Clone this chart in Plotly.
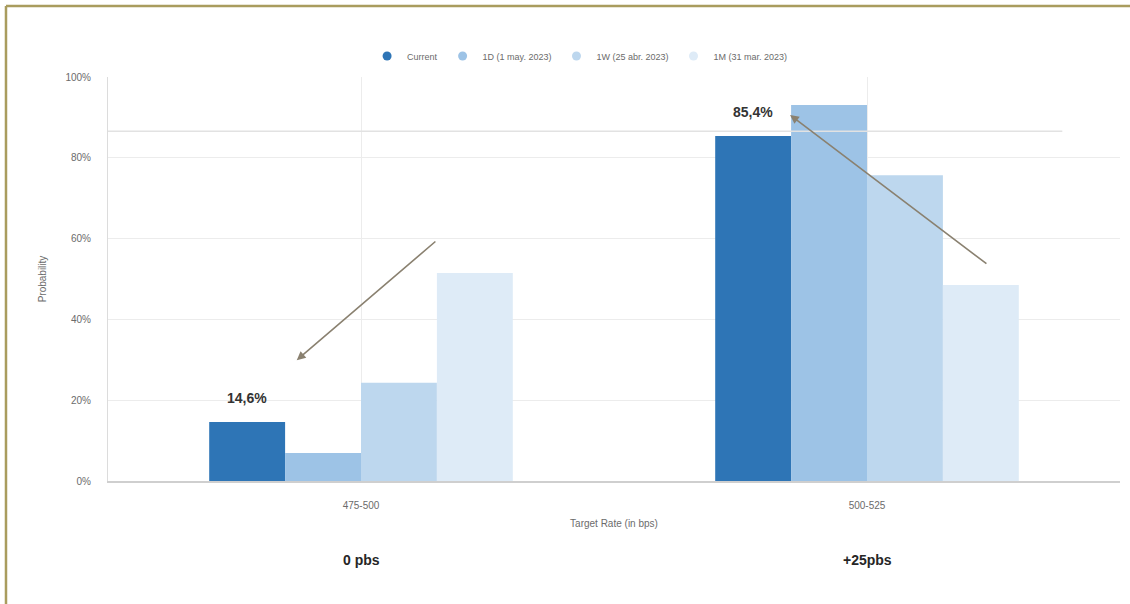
import plotly.graph_objects as go

# Target rate buckets and probabilities (%) for each snapshot
categories = ["475-500", "500-525"]
series_names = ["Current", "1D (1 may. 2023)", "1W (25 abr. 2023)", "1M (31 mar. 2023)"]
current = [14.6, 85.4]
one_day = [6.9, 93.1]
one_week = [24.3, 75.7]
one_month = [51.5, 48.5]
bucket_notes = ["0 pbs", "+25pbs"]
y_ticks = [0, 20, 40, 60, 80, 100]
y_tick_labels = ["0%", "20%", "40%", "60%", "80%", "100%"]

series_values = [current, one_day, one_week, one_month]
colors = ["#2e75b6", "#9dc3e6", "#bdd7ee", "#deebf7"]

fig = go.Figure()
for name, vals, col in zip(series_names, series_values, colors):
    fig.add_trace(go.Bar(x=categories, y=vals, name=name, marker_color=col,
                         marker_line_width=0, showlegend=False))
    # circular legend key
    fig.add_trace(go.Scatter(x=[None], y=[None], mode="markers", name=name,
                             marker=dict(symbol="circle", size=9, color=col)))

gray_txt = "#6b6b6b"
fig.update_layout(
    width=1130, height=604,
    margin=dict(l=108, r=10, t=77, b=123),
    paper_bgcolor="white", plot_bgcolor="white",
    barmode="group", bargap=0.4, bargroupgap=0,
    font=dict(family="Liberation Sans, Arial, sans-serif", color=gray_txt, size=10),
    legend=dict(orientation="h", x=0.466, xanchor="center", y=1.052, yanchor="middle",
                font=dict(size=9, color=gray_txt), itemwidth=30,
                bgcolor="rgba(0,0,0,0)"),
    xaxis=dict(showgrid=True, gridcolor="#ececec", gridwidth=1,
               showline=True, linecolor="#cfcfcf", linewidth=1.5,
               ticks="", tickfont=dict(size=10, color=gray_txt), ticklabelstandoff=14,
               title=dict(text="Target Rate (in bps)", font=dict(size=10, color=gray_txt),
                          standoff=10)),
    yaxis=dict(range=[0, 100], tickvals=y_ticks, ticktext=y_tick_labels,
               showgrid=True, gridcolor="#ececec", gridwidth=1,
               showline=True, linecolor="#dcdcdc", zeroline=False,
               ticks="", tickfont=dict(size=10, color=gray_txt), ticklabelstandoff=14,
               title=dict(text="Probability", font=dict(size=10, color=gray_txt),
                          standoff=16)),
)

# reference line near the current 500-525 level
fig.add_shape(type="line", xref="paper", yref="y", x0=0, x1=0.943, y0=86.6, y1=86.6,
              line=dict(color="#e2e2e2", width=1.5))

# value labels above the "Current" bars
for i, v in enumerate(current):
    fig.add_annotation(x=i - 0.225, y=v, xref="x", yref="y",
                       text=f"<b>{v:.1f}%</b>".replace(".", ","), showarrow=False,
                       yshift=24, font=dict(size=14, color="#333333",
                                            family="Liberation Sans, Arial, sans-serif"))

# bucket notes below the axis
for i, note in enumerate(bucket_notes):
    fig.add_annotation(x=i, y=-0.22, xref="x", yref="paper", text=f"<b>{note}</b>",
                       showarrow=False, font=dict(size=14, color="#262626",
                                                  family="Liberation Sans, Arial, sans-serif"))

# trend arrows
arrow_col = "#8a8170"
fig.add_annotation(x=-0.127, y=29.9, ax=0.150, ay=59.6, xref="x", yref="y",
                   axref="x", ayref="y", text="", showarrow=True,
                   arrowhead=2, arrowsize=1.1, arrowwidth=1.6, arrowcolor=arrow_col)
fig.add_annotation(x=0.848, y=90.6, ax=1.239, ay=53.5, xref="x", yref="y",
                   axref="x", ayref="y", text="", showarrow=True,
                   arrowhead=2, arrowsize=1.1, arrowwidth=1.6, arrowcolor=arrow_col)

# outer frame (top and left edges)
frame_col = "#a99c5e"
fig.add_shape(type="line", xref="paper", yref="paper", x0=-0.1008, x1=1.02,
              y0=1.1757, y1=1.1757, line=dict(color=frame_col, width=2.5))
fig.add_shape(type="line", xref="paper", yref="paper", x0=-0.1008, x1=-0.1008,
              y0=1.1757, y1=-0.32, line=dict(color=frame_col, width=2.5))

fig.write_html("out.html")
